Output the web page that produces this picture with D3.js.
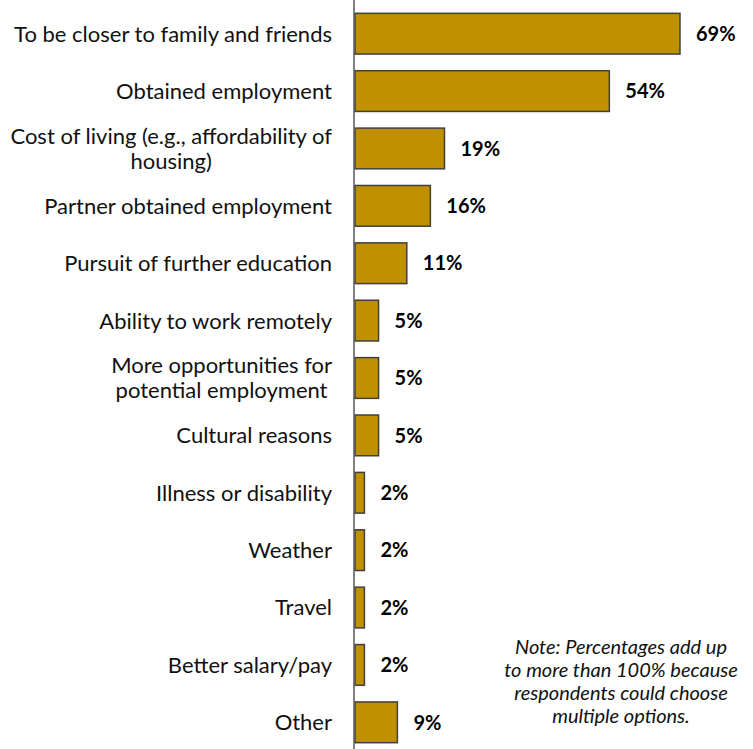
<!DOCTYPE html>
<html>
<head>
<meta charset="utf-8">
<script src="https://cdn.jsdelivr.net/npm/d3@7"></script>
<style>
  body { margin: 0; background: #fff; }
  svg { display: block; }
</style>
</head>
<body>
<svg id="chart" width="753" height="749"></svg>
<script>
// Reasons for moving, share of respondents (%)
const categories = [
    ['To be closer to family and friends'],
    ['Obtained employment'],
    ['Cost of living (e.g., affordability of', 'housing)'],
    ['Partner obtained employment'],
    ['Pursuit of further education'],
    ['Ability to work remotely'],
    ['More opportunities for', 'potential employment'],
    ['Cultural reasons'],
    ['Illness or disability'],
    ['Weather'],
    ['Travel'],
    ['Better salary/pay'],
    ['Other']
];
const values = [69, 54, 19, 16, 11, 5, 5, 5, 2, 2, 2, 2, 9];
const noteLines = [
    'Note: Percentages add up',
    'to more than 100% because',
    'respondents could choose',
    'multiple options.'
];

const font = 'Lato, "Open Sans", sans-serif';
const svg = d3.select('#chart');

const x = d3.scaleLinear().domain([0, 100]).range([355, 826]);
const y = d3.scaleBand()
    .domain(d3.range(categories.length))
    .range([5, 751])
    .paddingInner(0.29)
    .paddingOuter(0.145);

// Bars
svg.append('g')
    .selectAll('rect')
    .data(values)
    .join('rect')
    .attr('x', x(0))
    .attr('y', (d, i) => y(i))
    .attr('width', d => x(d) - x(0))
    .attr('height', y.bandwidth())
    .attr('fill', '#BF9000')
    .attr('stroke', '#404040')
    .attr('stroke-width', 1.5);

// Axis line
svg.append('line')
    .attr('x1', 354).attr('x2', 354)
    .attr('y1', 0).attr('y2', 749)
    .attr('stroke', '#595959')
    .attr('stroke-width', 1.5);

// Value labels
svg.append('g')
    .selectAll('text')
    .data(values)
    .join('text')
    .attr('x', d => x(d) + 16)
    .attr('y', (d, i) => y(i) + y.bandwidth() / 2)
    .attr('dy', '0.36em')
    .attr('font-family', font)
    .attr('font-weight', 'bold')
    .attr('font-size', 20)
    .attr('fill', '#000')
    .text(d => d + '%');

// Category labels (two-line ones are centred inside a right-aligned block)
const labelRight = 332;
const lab = svg.append('g')
    .selectAll('text')
    .data(categories)
    .join('text')
    .attr('font-family', font)
    .attr('font-size', 22)
    .attr('fill', '#111');

lab.each(function (lines, i) {
    const t = d3.select(this);
    const cy = y(i) + y.bandwidth() / 2;
    if (lines.length === 1) {
        t.attr('x', labelRight).attr('y', cy).attr('dy', '0.36em')
            .attr('text-anchor', 'end').text(lines[0]);
    } else {
        t.attr('text-anchor', 'middle');
        const spans = t.selectAll('tspan').data(lines).join('tspan')
            .attr('dy', '0.36em')
            .attr('y', (d, k) => cy + (k - (lines.length - 1) / 2) * 25)
            .text(d => d);
        let maxW = 0;
        spans.each(function () { maxW = Math.max(maxW, this.getComputedTextLength()); });
        spans.attr('x', labelRight - maxW / 2);
    }
});

// Note
svg.append('text')
    .attr('font-family', font)
    .attr('font-style', 'italic')
    .attr('font-size', 20)
    .attr('fill', '#111')
    .attr('text-anchor', 'middle')
    .selectAll('tspan')
    .data(noteLines)
    .join('tspan')
    .attr('x', 621)
    .attr('y', (d, k) => 654 + k * 23)
    .text(d => d);
</script>
</body>
</html>
